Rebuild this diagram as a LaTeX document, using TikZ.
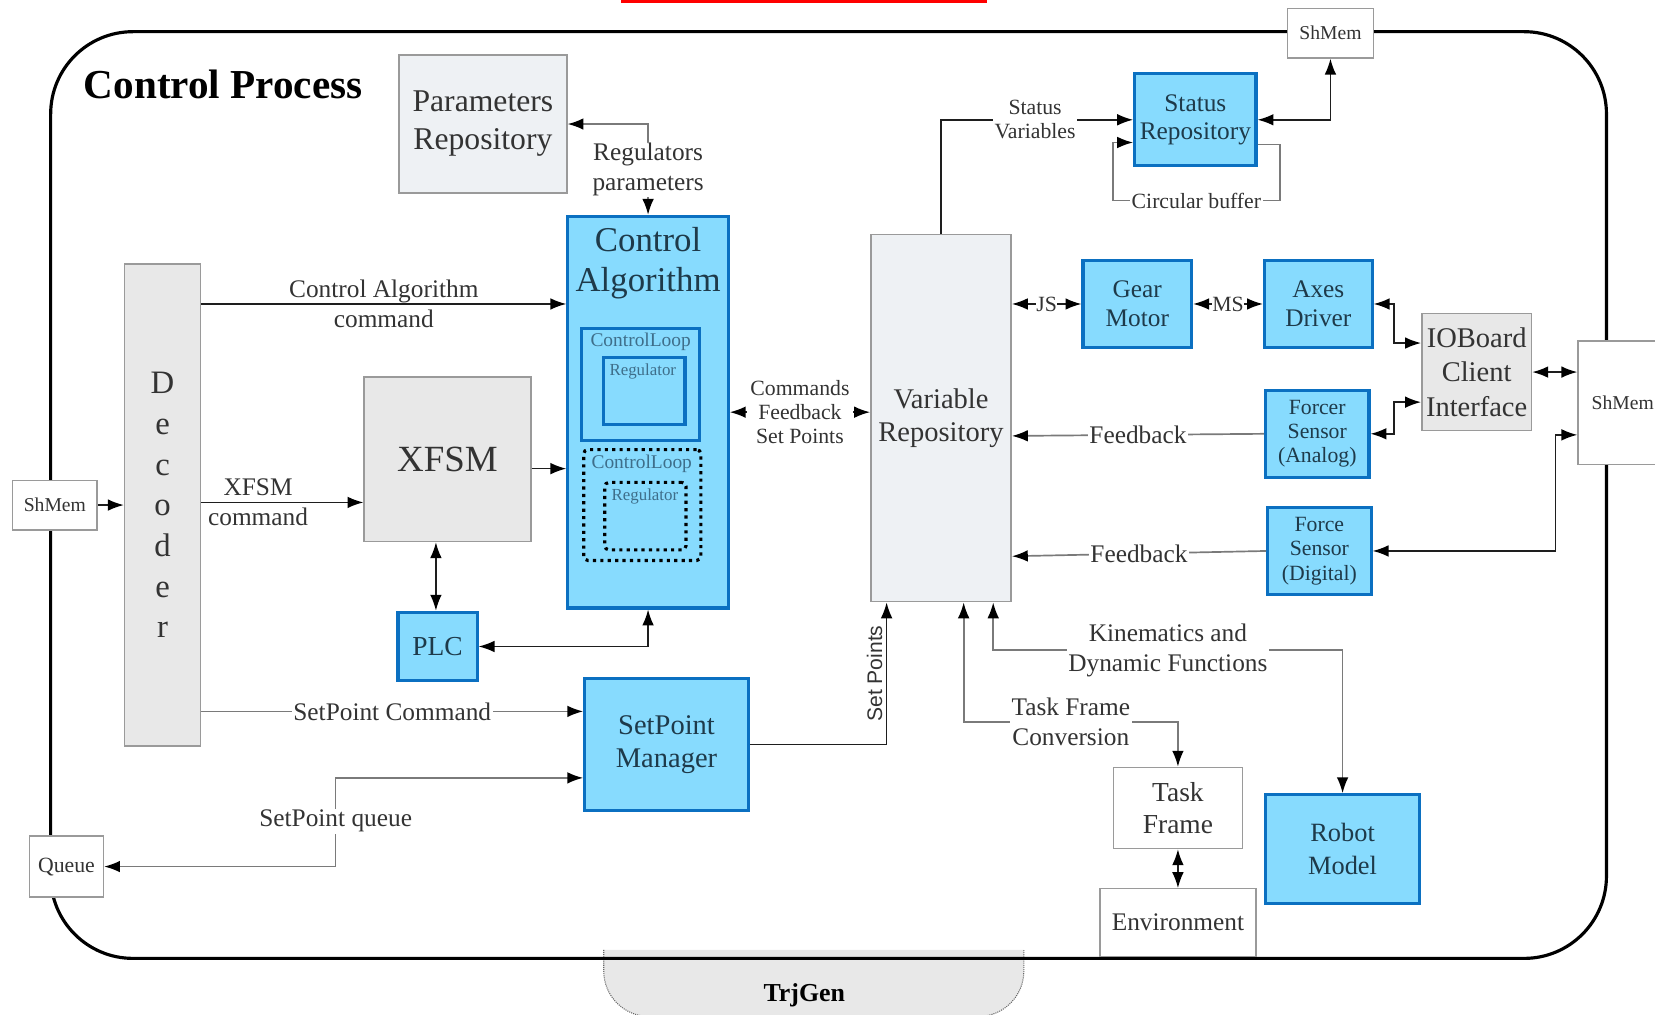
\documentclass[tikz,border=0pt]{standalone}
\usepackage{fontspec}
\setmainfont{Liberation Serif}
\newfontfamily\sansfam{Liberation Sans}
\usetikzlibrary{positioning, arrows.meta}

\definecolor{skyfill}{HTML}{87DBFE}
\definecolor{skyedge}{HTML}{0B70C1}
\definecolor{boxgray}{HTML}{E8E8E8}
\definecolor{repogray}{HTML}{EEF1F4}
\definecolor{edgegray}{HTML}{9A9A9A}
\definecolor{wirecol}{HTML}{1E1E1E}
\definecolor{softcol}{HTML}{7A7A7A}
\definecolor{inktext}{HTML}{333333}
\definecolor{bluetext}{HTML}{1E3A4A}
\definecolor{innertext}{HTML}{3E6E8A}

\newcommand{\fsz}[2]{\fontsize{#1}{#2}\selectfont}

\begin{document}
\begin{tikzpicture}[x=1pt, y=-1pt, >={Latex[length=15pt,width=11pt,color=black]},
    wire/.style={draw=wirecol, line width=1.4pt},
    softwire/.style={draw=softcol, line width=1.6pt},
    bluebox/.style={draw=skyedge, line width=3pt, fill=skyfill, text=bluetext, align=center, inner sep=0pt},
    graybox/.style={draw=edgegray, line width=1.5pt, fill=boxgray, text=inktext, align=center, inner sep=0pt},
    repobox/.style={graybox, fill=repogray},
    plainbox/.style={draw=edgegray, line width=1.3pt, fill=white, text=inktext, align=center, inner sep=0pt},
    lbl/.style={fill=white, inner sep=1.5pt, text=inktext, align=center, font=\fsz{24}{28}},
    small/.style={font=\fsz{20.6}{23}},
    dims/.style 2 args={minimum width=#1pt, minimum height=#2pt}]

    \useasboundingbox (0,0) rectangle (1568,961);
    \clip (0,0) rectangle (1568,961);

    \fill[red] (588,0) rectangle (935,3);
    \draw[draw=black!60, fill=boxgray, densely dotted, line width=1pt, rounded corners=43pt]
        (572,900) -- (572,963) -- (970,963) -- (970,900);
    \node[font=\bfseries\fsz{24.5}{28}] (trj) at (762,943) {TrjGen};
    \draw[line width=3pt, rounded corners=78pt] (48,30) rectangle (1522,908);
    \node[anchor=west, font=\bfseries\fsz{39}{42}] (title) at (76,80) {Control Process};

    \node[repobox, dims={159}{131}, font=\fsz{30}{36}] (param) at (457.5,117.5) {Parameters\\Repository};
    \node[bluebox, dims={152}{371}] (ca) at (614,390.5) {};
    \node[text=bluetext, align=center, font=\fsz{33}{38}] (catitle) at (614,249) {Control\\Algorithm};
    \node[draw=skyedge, line width=3pt, dims={112}{106}] (loopA) at (607,364) {};
    \node[draw=skyedge, line width=3pt, dims={77}{63}] (regA) at (610.5,370.5) {};
    \node[text=innertext, font=\fsz{18.4}{20}] (loopAtext) at (607,324) {ControlLoop};
    \node[text=innertext, font=\fsz{16}{18}] (regAtext) at (609,352) {Regulator};
    \node[draw=black, line width=3pt, dash pattern=on 3pt off 4pt, rounded corners=4pt, dims={111}{105}] (loopB) at (608.5,478.5) {};
    \node[draw=black, line width=3pt, dash pattern=on 3pt off 4pt, rounded corners=4pt, dims={77}{64}] (regB) at (611.5,489) {};
    \node[text=innertext, font=\fsz{18.4}{20}] (loopBtext) at (608,439) {ControlLoop};
    \node[text=innertext, font=\fsz{16}{18}] (regBtext) at (611,470) {Regulator};

    \node[graybox, dims={72}{457}, font=\fsz{31}{38.6}] (dec) at (154,478.5) {D\\e\\c\\o\\d\\e\\r};
    \node[plainbox, dims={80}{47}, font=\fsz{18.6}{20}] (shmL) at (52,478.5) {ShMem};
    \node[graybox, dims={158}{156}, font=\fsz{35}{40}] (xfsm) at (424,435) {XFSM};
    \node[bluebox, dims={75}{65}, font=\fsz{26}{30}] (plc) at (414.5,612.5) {PLC};
    \node[bluebox, dims={155}{125}, font=\fsz{27}{31}] (spm) at (631.5,705.5) {SetPoint\\Manager};
    \node[plainbox, dims={70}{58}, font=\fsz{20.6}{23}] (queue) at (63,821) {Queue};

    \node[repobox, dims={133}{348}, font=\fsz{27}{31}] (vr) at (891.5,396) {Variable\\Repository};
    \node[bluebox, dims={115}{87}, font=\fsz{24}{27}] (sr) at (1132.5,113.5) {Status\\Repository};
    \node[plainbox, dims={81}{47}, font=\fsz{18.6}{20}] (shmT) at (1260.5,31.5) {ShMem};
    \node[bluebox, dims={103}{82}, font=\fsz{24}{27}] (gm) at (1077.5,288) {Gear\\Motor};
    \node[bluebox, dims={102}{82}, font=\fsz{24}{27}] (ad) at (1249,288) {Axes\\Driver};
    \node[graybox, dims={104}{111}, font=\fsz{27}{32.5}] (iob) at (1399,352.5) {IOBoard\\Client\\Interface};
    \node[bluebox, dims={98}{82}, font=\fsz{20.6}{23}] (fsa) at (1248,411) {Forcer\\Sensor\\(Analog)};
    \node[bluebox, dims={98}{82}, font=\fsz{20.6}{23}] (fsd) at (1250,522) {Force\\Sensor\\(Digital)};
    \node[plainbox, dims={85}{117}, font=\fsz{18.6}{20}] (shmR) at (1537.5,381.5) {ShMem};
    \node[plainbox, dims={122}{77}, font=\fsz{26}{31}] (tf) at (1116,765.5) {Task\\Frame};
    \node[plainbox, dims={148}{64}, font=\fsz{24}{27}] (env) at (1116,874) {Environment};
    \node[bluebox, dims={146}{103}, font=\fsz{25}{31}] (rm) at (1272,804.5) {Robot\\Model};

    \draw[wire,->] (shmL) -- (dec);
    \draw[wire,->] (dec.east |- 0,288) -- node[text=inktext, align=center, font=\fsz{24}{28}] {Control Algorithm\\command} (ca.west |- 0,288);
    \draw[wire,->] (dec.east |- 0,476) -- node[pos=0.35, text=inktext, align=center, font=\fsz{24}{28}] {XFSM\\command} (xfsm.west |- 0,476);
    \draw[wire,->] (xfsm.east |- 0,444) -- (ca.west |- 0,444);
    \draw[wire,<->] (plc.north -| 413,0) -- (xfsm.south -| 413,0);
    \draw[wire,<->] (plc.east) -| (ca.south);
    \draw[softwire,<->] (param.east) -| node[lbl, pos=0.75] {Regulators\\parameters} (ca.north);
    \draw[softwire,->] (dec.east |- 0,674) -- node[lbl] {SetPoint Command} (spm.west |- 0,674);
    \draw[softwire,<->] (spm.west |- 0,737) -| (318,778) node[lbl] {SetPoint queue} |- (queue.east);
    \draw[wire,->] (spm.east) -| node[pos=0.75, rotate=90, anchor=south, text=inktext, font=\sansfam\fsz{20}{22}] {Set Points} (vr.south -| 840,0);

    \draw[wire,<->] (ca.east) -- node[lbl, small, inner sep=3pt] {Commands\\Feedback\\Set Points} (vr.west |- ca.east);
    \draw[wire,->] (vr.north) |- node[lbl, small, pos=0.745] {Status\\Variables} (sr.west);
    \draw[softwire,->] (sr.east |- 0,137) -- ++(21,0) -- ++(0,53) -- node[lbl, small] {Circular buffer} ++(-158,0) -- ++(0,-55) -- (sr.west |- 0,135);
    \draw[wire,<->] (sr.east) -| (shmT.south);
    \draw[wire,<->] (vr.east |- gm.west) -- node[lbl, small, inner sep=0.5pt] {JS} (gm.west);
    \draw[wire,<->] (gm.east) -- node[lbl, small, inner sep=0.5pt] {MS} (ad.west);
    \draw[wire,<->] (ad.east) -- ++(19,0) |- (iob.west |- 0,325);
    \draw[wire,<->] (fsa.east) -- ++(22,0) |- (iob.west |- 0,381);
    \draw[wire,<->] (iob.east) -- (shmR.west |- iob.east);
    \draw[wire,<->] (fsd.east) -- ++(173,0) |- (shmR.west |- 0,412);
    \draw[softwire,->] (fsa.west) -- node[lbl] {Feedback} (vr.east |- 0,413);
    \draw[softwire,->] (fsd.west) -- node[lbl] {Feedback} (vr.east |- 0,527);
    \draw[softwire,<->] (vr.south -| 913,0) |- node[lbl, pos=0.75] {Task Frame\\Conversion} (tf.north |- 0,684) -- (tf.north);
    \draw[softwire,<->] (vr.south -| 941,0) |- node[lbl, pos=0.75] {Kinematics and\\Dynamic Functions} (rm.north |- 0,616) -- (rm.north);
    \draw[wire,<->] (tf.south) -- (env.north);
\end{tikzpicture}
\end{document}
